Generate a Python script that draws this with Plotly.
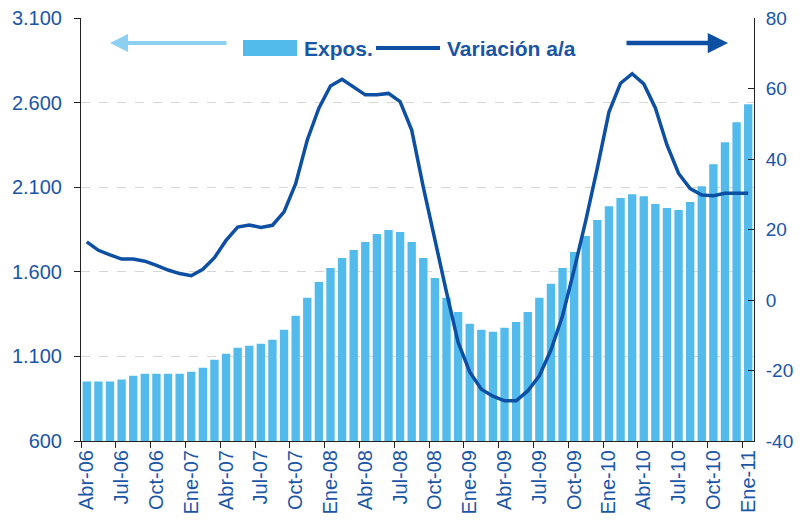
import plotly.graph_objects as go

# meses abr-06 .. ene-11
meses_abrev = ['Ene', 'Feb', 'Mar', 'Abr', 'May', 'Jun', 'Jul', 'Ago', 'Sep', 'Oct', 'Nov', 'Dic']
anios = ['06', '07', '08', '09', '10', '11']
periodos = []
for a in anios:
    for m in meses_abrev:
        periodos.append(m + '-' + a)
periodos = periodos[3:3 + 58]

# exposiciones (eje izq.)
expos = [951, 951, 951, 963, 986, 998, 998, 998, 998, 1010, 1033, 1080,
         1116, 1151, 1163, 1175, 1198, 1257, 1340, 1446, 1540, 1623, 1682, 1729,
         1776, 1823, 1847, 1835, 1776, 1682, 1564, 1446, 1363, 1293, 1257, 1246,
         1269, 1304, 1363, 1446, 1529, 1623, 1717, 1812, 1906, 1988, 2036, 2059,
         2047, 2000, 1977, 1965, 2012, 2106, 2236, 2366, 2484, 2590]

# variacion a/a en % (eje der.)
variacion = [16.5, 14.1, 12.8, 11.6, 11.6, 11.0, 9.8, 8.5, 7.5, 6.9, 8.7, 12.0,
             16.9, 20.7, 21.3, 20.6, 21.2, 25.0, 33.0, 45.4, 54.4, 60.7, 62.6, 60.5,
             58.2, 58.2, 58.6, 56.3, 48.2, 32.0, 16.5, 2.2, -12.0, -20.4, -25.3, -27.3,
             -28.6, -28.6, -25.8, -21.5, -14.2, -4.5, 8.6, 22.5, 37.5, 53.3, 61.5, 64.2,
             61.3, 54.5, 44.0, 35.9, 31.6, 29.8, 29.6, 30.3, 30.3, 30.3]

ticks_izq = [600, 1100, 1600, 2100, 2600, 3100]
ticks_der = [-40, -20, 0, 20, 40, 60, 80]

azul_claro = '#53bbec'
azul_osc = '#0d4fa3'
txt = '#1a55a6'
fuente = 'Liberation Sans, Arial, sans-serif'

x = list(range(len(periodos)))

fig = go.Figure()
fig.add_trace(go.Bar(x=x, y=expos, marker_color=azul_claro, marker_line_width=0,
                     name='Expos.', yaxis='y'))
fig.add_trace(go.Scatter(x=x, y=variacion, mode='lines', line=dict(color=azul_osc, width=3.5),
                         name='Variación a/a', yaxis='y2'))

# area de trazado en pixeles de la ventana (el body de la pagina tiene 8px de margen)
off = 8
W, H = 803 - off, 527 - 2 * off
L, R, T, B = 81, 754, 18, 441
def px(v):
    return (v - L) / (R - L)
def py(v):
    return (B - v) / (B - T)

# leyenda dibujada a mano
fig.add_shape(type='rect', xref='paper', yref='paper', x0=px(243), x1=px(297), y0=py(56), y1=py(40),
              fillcolor=azul_claro, line_width=0)
fig.add_shape(type='line', xref='paper', yref='paper', x0=px(376), x1=px(440), y0=py(48), y1=py(48),
              line=dict(color=azul_osc, width=4))
fig.add_annotation(xref='paper', yref='paper', x=px(302), y=py(48), text='<b>Expos.</b>', showarrow=False,
                   xanchor='left', yanchor='middle', font=dict(size=21, color=txt, family=fuente))
fig.add_annotation(xref='paper', yref='paper', x=px(445), y=py(48), text='<b>Variación a/a</b>', showarrow=False,
                   xanchor='left', yanchor='middle', font=dict(size=21, color=txt, family=fuente))
# flechas
fig.add_annotation(xref='paper', yref='paper', x=px(110), y=py(43), ax=118, ay=0, text='',
                   showarrow=True, arrowhead=2, arrowsize=0.9, arrowwidth=4, arrowcolor='#8ccff0')
fig.add_annotation(xref='paper', yref='paper', x=px(728), y=py(43), ax=-103, ay=0, text='',
                   showarrow=True, arrowhead=2, arrowsize=0.9, arrowwidth=4.5, arrowcolor=azul_osc)

fig.update_layout(
    width=W, height=H,
    margin=dict(l=L - off, r=803 - R, t=T - off, b=(off + H) - B),
    plot_bgcolor='white', paper_bgcolor='white',
    showlegend=False, bargap=0.28,
    separators=',.',
    font=dict(family=fuente, size=20, color=txt),
    xaxis=dict(range=[-0.5, 57.5], tickvals=x[::3], ticktext=periodos[::3], tickangle=-90,
               ticks='', showgrid=False, showline=True, linecolor='#222', linewidth=1,
               tickfont=dict(size=20, color=txt), zeroline=False, automargin=False,
               ticklabeloverflow='allow',
               minor=dict(tickvals=[v - 0.5 for v in x[::3]], ticks='outside', ticklen=6,
                          tickcolor='#222', showgrid=False)),
    yaxis=dict(range=[600, 3100], tickvals=ticks_izq, tickformat=',d',
               ticks='outside', ticklen=6, tickcolor='#222', showline=True, linecolor='#222',
               showgrid=True, gridcolor='#d6d6d6', griddash='dash', gridwidth=1, automargin=False,
               zeroline=False, ticklabelstandoff=8, ticklabeloverflow='allow',
               tickfont=dict(size=20, color=txt)),
    yaxis2=dict(range=[-40, 80], tickvals=ticks_der, ticktext=[str(v) for v in ticks_der],
                overlaying='y', side='right', showgrid=False, automargin=False,
                ticks='inside', ticklen=6, tickcolor='#222', showline=True, linecolor='#222',
                zeroline=False, ticklabelstandoff=7, ticklabeloverflow='allow',
                tickfont=dict(size=19, color=txt)),
)

fig.write_html('out.html')
